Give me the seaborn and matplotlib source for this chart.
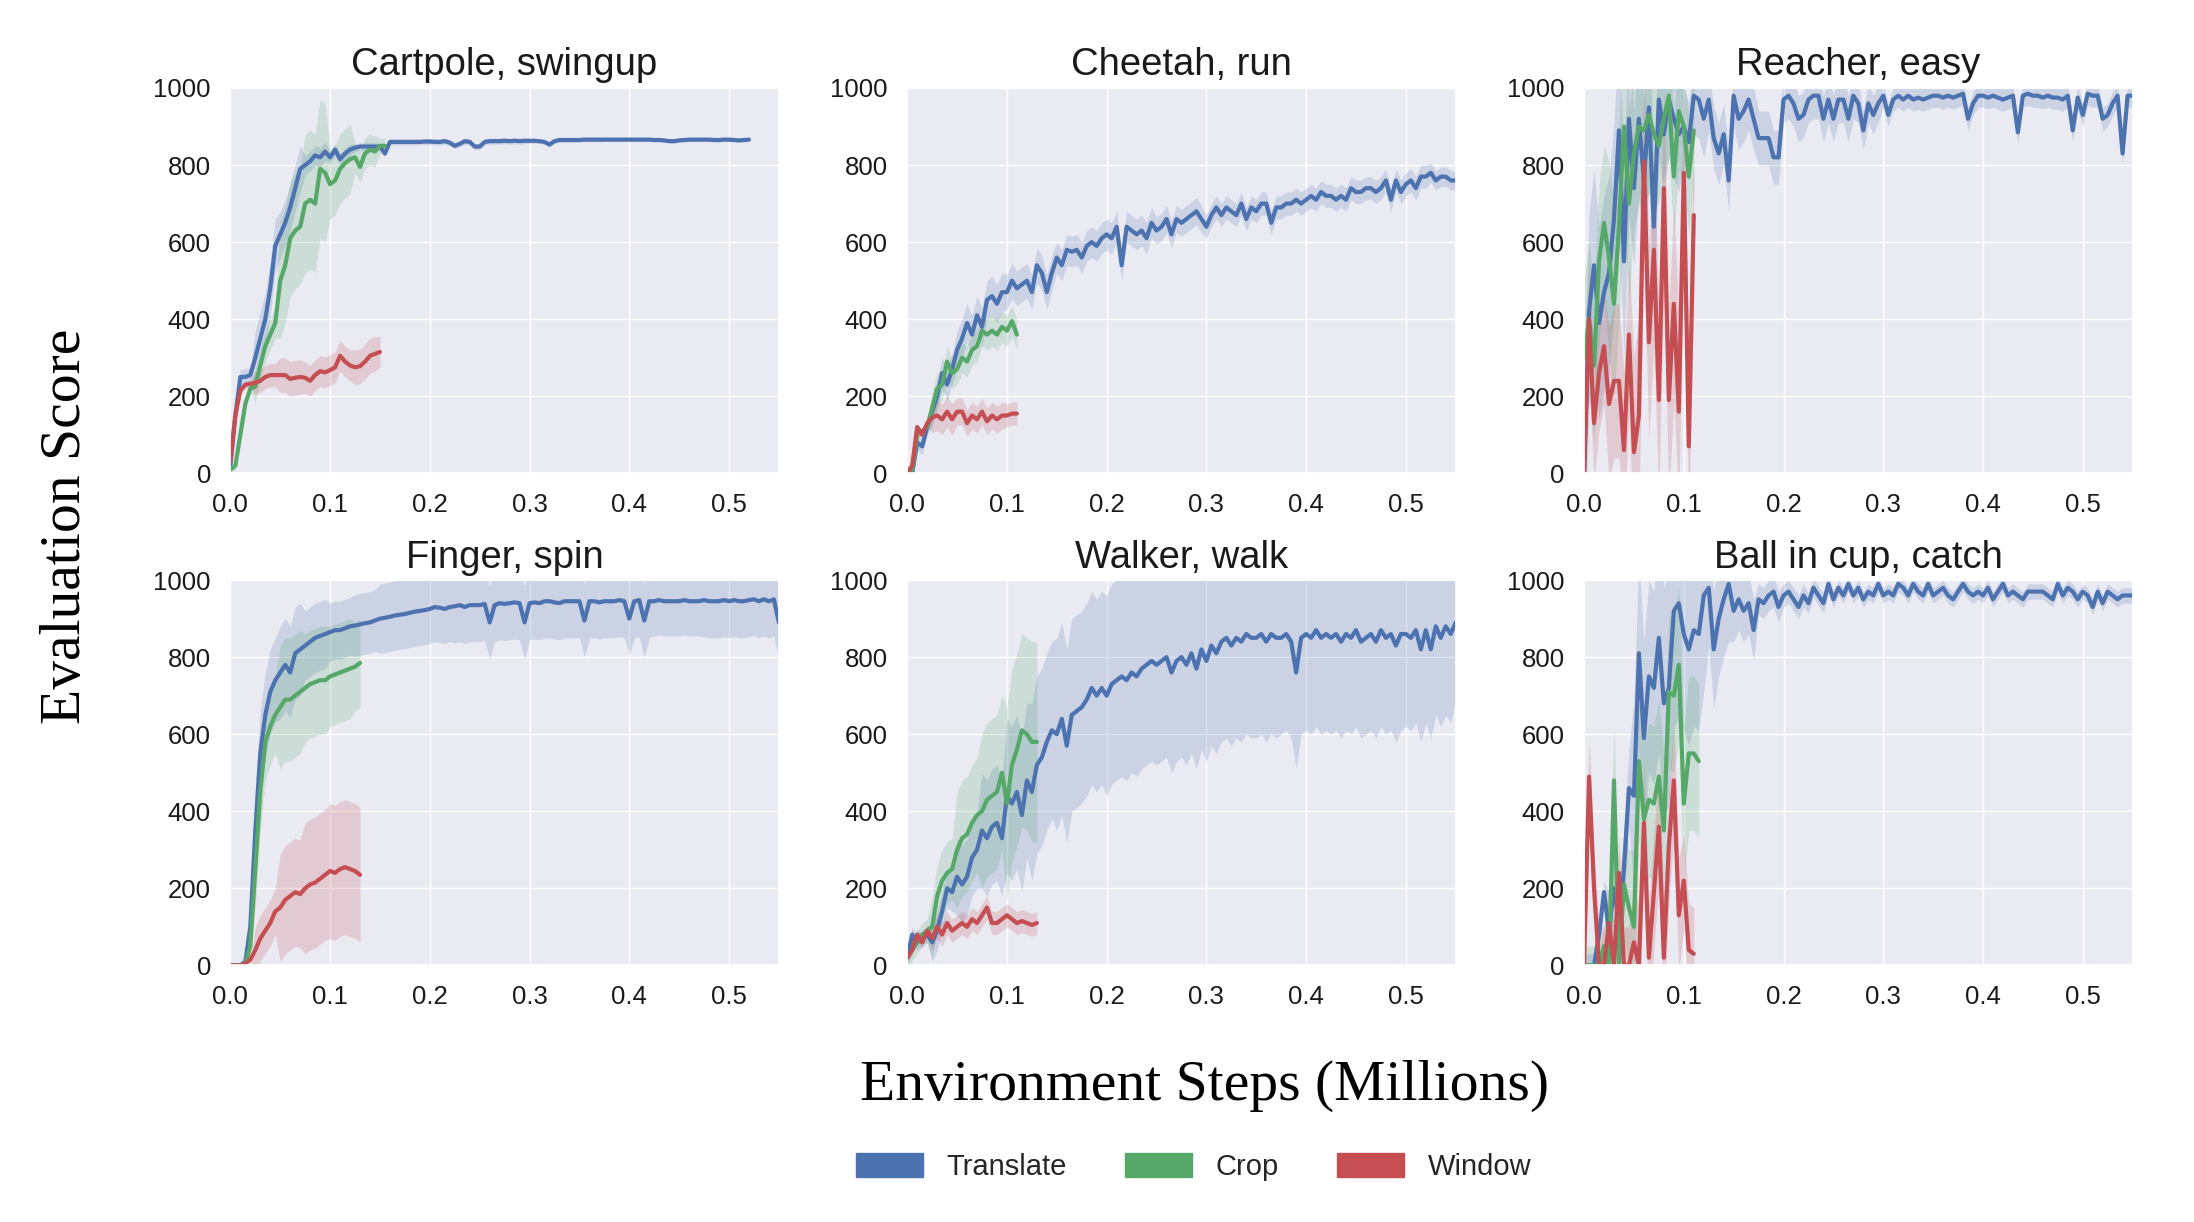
import numpy as np
import matplotlib
matplotlib.use("Agg")
import matplotlib.pyplot as plt
from matplotlib.patches import Patch
import seaborn as sns

STEP = 0.005
titles = ["Cartpole, swingup", "Cheetah, run", "Reacher, easy",
          "Finger, spin", "Walker, walk", "Ball in cup, catch"]
methods = ["Translate", "Crop", "Window"]
colors = ["#4C72B0", "#55A868", "#C44E52"]

# Cartpole, swingup
cartpole_translate = [20, 150, 250, 250, 255, 300, 350, 400, 480, 590, 620, 650, 690, 740, 790, 800, 810, 825,
                      820, 835, 820, 840, 815, 830, 840, 845, 848, 848, 848, 848, 848, 830, 860,
                      860, 860, 860, 860, 860, 860, 861, 861, 860, 860, 862, 858, 850, 855, 862, 860, 848, 848,
                      860, 862, 862, 862, 863, 862, 863, 862, 863, 863, 863, 862, 860, 853, 862, 865, 865, 865,
                      865, 865, 866, 866, 866, 866, 866, 866, 866, 866, 866, 866, 866, 866, 866, 866, 865, 865,
                      864, 862, 862, 864, 865, 866, 866, 866, 866, 866, 865, 865, 866, 866, 865, 864, 865, 866]
cartpole_translate_sd = [20, 70, 60, 25, 15, 10, 8, 8, 8, 8, 8, 8, 6, 6, 6, 5, 5, 5, 5, 5, 5, 5]
cartpole_crop = [10, 20, 100, 180, 220, 225, 280, 330, 360, 390, 500, 540, 610, 630, 640, 700, 710, 700, 790, 780,
                 750, 760, 790, 805, 815, 820, 795, 830, 840, 835, 850, 850]
cartpole_crop_sd = [10, 40, 150, 180, 90, 40, 20]
cartpole_window = [30, 150, 215, 230, 232, 235, 240, 250, 255, 255, 255, 255, 245, 248, 250, 248, 240, 255, 265,
                   262, 268, 275, 305, 290, 280, 275, 278, 290, 305, 310, 315]
cartpole_window_sd = [10, 30, 45, 40, 40, 45, 40]

# Cheetah, run
cheetah_translate = [0, 0, 80, 70, 120, 160, 200, 260, 230, 270,
                     320, 350, 390, 360, 410, 380, 450, 460, 440, 470,
                     470, 500, 480, 490, 500, 470, 540, 520, 470, 520,
                     560, 540, 580, 575, 580, 560, 590, 600, 590, 610,
                     620, 610, 640, 540, 640, 630, 620, 630, 610, 650,
                     630, 640, 660, 620, 660, 650, 660, 670, 680, 660,
                     640, 670, 690, 670, 690, 680, 670, 700, 660, 690,
                     680, 700, 700, 650, 690, 690, 700, 700, 710, 700,
                     710, 720, 710, 730, 720, 720, 710, 720, 710, 740,
                     730, 730, 740, 740, 730, 740, 760, 710, 760, 730,
                     750, 760, 740, 770, 770, 780, 760, 770, 770, 760, 760]
cheetah_translate_sd = [20, 40, 50, 50, 45, 45, 40, 40, 40, 40, 35, 35, 30, 30, 30, 30, 30, 30, 30, 30, 30, 25, 25]
cheetah_crop = [0, 10, 100, 110, 120, 170, 220, 230, 290, 260, 270, 300, 290, 320, 330, 370, 360, 370, 360, 380,
                370, 395, 360]
cheetah_crop_sd = [10, 40, 40, 40, 40]
cheetah_window = [0, 20, 120, 100, 130, 145, 150, 140, 160, 140, 160, 160, 130, 150, 140, 160, 135, 150, 140, 150,
                  150, 155, 155]
cheetah_window_sd = [10, 40, 35, 35, 30]

# Reacher, easy
reacher_translate = [0, 420, 540, 390, 470, 520, 660, 890, 550, 920,
                     740, 920, 760, 950, 640, 970, 880, 970, 920, 880,
                     900, 860, 980, 970, 920, 970, 870, 830, 880, 760,
                     980, 920, 940, 970, 920, 870, 870, 870, 820, 820,
                     970, 980, 960, 920, 930, 970, 980, 980, 920, 970,
                     920, 970, 970, 920, 980, 960, 890, 960, 930, 960,
                     980, 930, 970, 980, 970, 980, 970, 975, 970, 975,
                     980, 980, 975, 980, 975, 980, 985, 920, 960, 980,
                     980, 975, 980, 975, 970, 975, 980, 885, 980, 985,
                     980, 980, 975, 980, 975, 975, 970, 980, 890, 975,
                     930, 985, 980, 980, 920, 930, 960, 980, 830, 980, 980]
reacher_translate_sd = [250, 250, 200, 150, 100, 80, 80, 70, 60, 60, 60, 50, 30, 30, 30, 30, 30, 30, 30, 30, 30,
                        30, 30]
reacher_crop = [300, 400, 280, 550, 650, 560, 440, 640, 900, 700, 830, 900, 890, 930, 880, 850, 920, 980, 770, 940,
                900, 770, 890]
reacher_crop_sd = [200, 250, 200, 150, 150]
reacher_window = [0, 400, 130, 260, 330, 180, 240, 240, 60, 360, 55, 150, 810, 340, 580, 190, 740, 190, 440, 160,
                  780, 70, 670]
reacher_window_sd = [150, 200, 250, 250, 200]

# Finger, spin
finger_translate = [0, 0, 0, 10, 100, 350, 550, 650, 710, 740,
                    760, 780, 760, 810, 820, 830, 840, 850, 855, 860,
                    865, 870, 870, 875, 880, 882, 885, 888, 890, 895,
                    900, 902, 905, 908, 910, 912, 915, 918, 920, 922,
                    925, 930, 928, 925, 930, 932, 935, 930, 935, 935,
                    935, 938, 890, 935, 940, 938, 940, 942, 940, 890,
                    940, 942, 940, 945, 945, 942, 940, 945, 945, 945,
                    945, 895, 945, 945, 942, 945, 945, 945, 948, 945,
                    900, 945, 948, 895, 945, 945, 948, 945, 945, 945,
                    945, 948, 945, 945, 945, 948, 945, 945, 945, 948,
                    945, 948, 945, 945, 948, 950, 945, 950, 945, 950, 890]
finger_translate_sd = [5, 110, 120, 90, 75, 80, 90, 90, 90, 95, 95, 95, 95, 95, 95, 95, 95, 90, 90, 95, 95, 95, 95]
finger_crop = [0, 0, 0, 5, 50, 250, 450, 580, 620, 650, 670, 690, 690, 700, 710, 720, 730, 735, 740, 740, 750, 755,
               760, 765, 770, 775, 785]
finger_crop_sd = [5, 100, 160, 140, 130, 115]
finger_window = [0, 0, 0, 5, 15, 40, 70, 90, 110, 140, 150, 170, 180, 190, 185, 200, 210, 215, 225, 235, 245, 240,
                 250, 255, 250, 245, 235]
finger_window_sd = [5, 60, 140, 170, 175, 175]

# Walker, walk
walker_translate = [20, 80, 60, 70, 80, 60, 90, 140, 200, 190,
                    230, 210, 230, 280, 300, 350, 330, 360, 370, 330,
                    440, 420, 450, 390, 480, 450, 520, 540, 580, 610,
                    600, 640, 570, 650, 660, 670, 690, 720, 700, 720,
                    700, 730, 740, 750, 740, 760, 750, 770, 780, 790,
                    780, 790, 800, 760, 790, 800, 780, 810, 770, 820,
                    790, 830, 810, 840, 850, 830, 850, 840, 860, 850,
                    850, 860, 840, 860, 850, 850, 860, 840, 760, 850,
                    860, 850, 870, 850, 860, 850, 860, 840, 860, 850,
                    870, 840, 850, 860, 840, 870, 850, 860, 830, 860,
                    860, 850, 870, 820, 870, 820, 880, 850, 880, 860, 890]
walker_translate_sd = [20, 50, 100, 150, 200, 230, 250, 250, 260, 260, 260, 260, 260, 260, 260, 250, 250, 250, 250,
                       250, 240, 230, 200]
walker_crop = [20, 40, 60, 80, 90, 100, 180, 220, 240, 250, 300, 330, 340, 370, 390, 400, 430, 440, 450, 500, 420,
               520, 560, 610, 600, 580, 580]
walker_crop_sd = [30, 80, 150, 200, 250, 260]
walker_window = [20, 40, 80, 60, 90, 70, 100, 80, 110, 90, 100, 110, 100, 120, 110, 130, 150, 110, 110, 120, 130,
                 120, 110, 115, 110, 105, 110]
walker_window_sd = [15, 30, 30, 30, 30, 30]

# Ball in cup, catch
ball_translate = [0, 0, 0, 80, 190, 90, 200, 110, 250, 460,
                  440, 810, 590, 750, 720, 850, 680, 720, 920, 940,
                  860, 820, 870, 860, 960, 980, 820, 900, 950, 990,
                  920, 950, 920, 940, 870, 950, 940, 960, 970, 930,
                  960, 970, 950, 930, 960, 940, 980, 960, 940, 990,
                  950, 980, 960, 990, 960, 980, 950, 970, 960, 990,
                  960, 970, 960, 990, 980, 960, 990, 970, 960, 990,
                  960, 970, 980, 960, 950, 970, 990, 970, 960, 970,
                  960, 980, 950, 970, 990, 960, 970, 960, 950, 970,
                  970, 970, 970, 960, 950, 990, 960, 980, 970, 950,
                  970, 960, 930, 970, 940, 970, 960, 950, 960, 960, 960]
ball_translate_sd = [30, 100, 250, 300, 250, 150, 80, 40, 30, 25, 20, 20, 20, 20, 20, 20, 20, 20, 20, 20, 20, 20, 20]
ball_crop = [0, 0, 0, 0, 50, 0, 480, 0, 210, 150, 100, 530, 380, 430, 420, 490, 350, 710, 700, 780, 420, 550, 550,
             530]
ball_crop_sd = [50, 150, 200, 200, 200]
ball_window = [0, 490, 200, 0, 0, 110, 0, 240, 0, 0, 60, 0, 370, 20, 190, 360, 20, 310, 480, 130, 220, 40, 30]
ball_window_sd = [100, 100, 150, 150, 120]

runs = [
    [(cartpole_translate, cartpole_translate_sd), (cartpole_crop, cartpole_crop_sd), (cartpole_window, cartpole_window_sd)],
    [(cheetah_translate, cheetah_translate_sd), (cheetah_crop, cheetah_crop_sd), (cheetah_window, cheetah_window_sd)],
    [(reacher_translate, reacher_translate_sd), (reacher_crop, reacher_crop_sd), (reacher_window, reacher_window_sd)],
    [(finger_translate, finger_translate_sd), (finger_crop, finger_crop_sd), (finger_window, finger_window_sd)],
    [(walker_translate, walker_translate_sd), (walker_crop, walker_crop_sd), (walker_window, walker_window_sd)],
    [(ball_translate, ball_translate_sd), (ball_crop, ball_crop_sd), (ball_window, ball_window_sd)],
]

# ---- style ----
sns.set_theme(style="darkgrid")
plt.rcParams["font.family"] = ["Liberation Sans", "DejaVu Sans"]

fig, axes = plt.subplots(2, 3, figsize=(21.94, 12.22), dpi=100)
fig.subplots_adjust(left=0.105, right=0.972, top=0.928, bottom=0.21, wspace=0.234, hspace=0.277)

for ax, title, env in zip(axes.flat, titles, runs):
    for (mean, sd_coarse), c in zip(env, colors):
        y = np.array(mean, dtype=float)
        x = np.arange(len(y)) * STEP
        # spread is read per 0.025 M-step block
        sd = np.repeat(sd_coarse, 5)[:len(y)]
        ax.fill_between(x, y - sd, y + sd, color=c, alpha=0.2, lw=0)
        sns.lineplot(x=x, y=y, ax=ax, color=c, lw=3.0, errorbar=None)
    ax.set_xlim(0, 0.55)
    ax.set_ylim(0, 1000)
    ax.set_xticks([0.0, 0.1, 0.2, 0.3, 0.4, 0.5])
    ax.set_xticklabels(["0.0", "0.1", "0.2", "0.3", "0.4", "0.5"])
    ax.set_yticks([0, 200, 400, 600, 800, 1000])
    ax.tick_params(labelsize=18.5, pad=8, colors="#1a1a1a")
    ax.set_title(title, fontsize=27.5, pad=9, color="#1a1a1a")
    ax.set_xlabel("")
    ax.set_ylabel("")

fig.text(0.030, 0.569, "Evaluation Score", rotation=90, ha="center", va="center",
         fontsize=41.5, color="black", family=["Liberation Serif", "DejaVu Serif"])
fig.text(0.549, 0.111, "Environment Steps (Millions)", ha="center", va="center",
         fontsize=41.5, color="black", family=["Liberation Serif", "DejaVu Serif"])

handles = [Patch(facecolor=c, edgecolor=c) for c in colors]
fig.legend(handles, methods, loc="center", bbox_to_anchor=(0.544, 0.045), ncol=3, frameon=False,
           fontsize=21, handlelength=2.3, handleheight=0.85, columnspacing=2.0, handletextpad=0.8)

fig.savefig("out.png", dpi=100)
